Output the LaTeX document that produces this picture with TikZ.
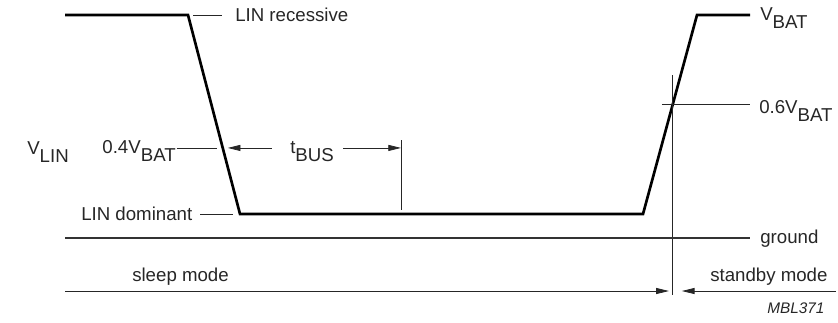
\documentclass[tikz,border=0pt]{standalone}
\usepackage{fontspec}
\setmainfont{Liberation Sans}
\usetikzlibrary{arrows.meta, calc, positioning}
\newcommand{\lowtext}[1]{\raisebox{-6.5pt}{#1}}

\begin{document}
\begin{tikzpicture}[x=0.75pt, y=-0.75pt,
    signal/.style={line width=2pt, line join=miter},
    thinline/.style={line width=0.6pt, black!85},
    dimarrow/.style={thinline, -{Triangle[length=9.5pt, width=4.5pt]}},
    lbl/.style={font=\fontsize{14}{16}\selectfont, text=black!85, inner sep=0pt, anchor=base west}]

    \useasboundingbox (0,0) rectangle (838,322);

    % waveform corners
    \coordinate (A) at (65,15);
    \coordinate (B) at (188,15);
    \coordinate (C) at (240,214);
    \coordinate (D) at (643,214);
    \coordinate (E) at (697,15);
    \coordinate (F) at (750,15);

    \draw[signal] (A) -- (B) -- (C) -- (D) -- (E) -- (F);

    % threshold crossings
    \coordinate (P) at ($(B)!0.668!(C)$);
    \coordinate (Q) at ($(D)!0.553!(E)$);

    % mode change marker
    \coordinate (M) at (Q |- 0,75);
    \coordinate (N) at (Q |- 0,295);
    \draw[thinline] (M) -- (N);

    % ground
    \coordinate (G0) at (65,238);
    \coordinate (G1) at (750,238);
    \draw[line width=1.3pt, black!80] (G0) -- (G1);
    \node[lbl] (gnd) at (760,243) {ground};

    \node[lbl] (rec) at (235,21) {LIN recessive};
    \draw[thinline] ($(B)+(5,0)$) -- ($(B)+(34,0)$);

    \node[lbl] (dom) at (81,220) {LIN dominant};
    \draw[thinline] ($(C)+(-40,0)$) -- ($(C)+(-7,0)$);

    \node[lbl] (vbat) at (760,20) {V\lowtext{BAT}};
    \node[lbl] (vlin) at (27,154) {V\lowtext{LIN}};

    \node[lbl, anchor=base east] (vfour) at (176,153) {0.4V\lowtext{BAT}};
    \draw[thinline] ($(P)+(-46,0)$) -- ($(P)+(-6,0)$);

    \node[lbl] (vsix) at (759,113) {0.6V\lowtext{BAT}};
    \draw[thinline] ($(Q)+(-11,0)$) -- ($(Q)+(77,0)$);

    % bus time-out
    \coordinate (T0) at (401,140);
    \coordinate (T1) at (401,210);
    \draw[thinline] (T0) -- (T1);
    \node[lbl] (tbus) at (290,153) {t\lowtext{BUS}};
    \draw[dimarrow] ($(P)+(49,0)$) -- ($(P)+(5,0)$);
    \draw[dimarrow] ($(T0 |- P)+(-58,0)$) -- (T0 |- P);

    % modes
    \coordinate (S0) at (65,291);
    \coordinate (S1) at (836,291);
    \draw[dimarrow] (S0) -- ($(N |- S0)+(-4,0)$);
    \draw[dimarrow] (S1) -- ($(N |- S0)+(9,0)$);
    \node[lbl] (sleep) at (132,281) {sleep mode};
    \node[lbl] (stby) at (710,281) {standby mode};

    \node[lbl, font=\fontsize{11.5}{13}\selectfont\itshape] (code) at (767,313) {MBL371};
\end{tikzpicture}
\end{document}
